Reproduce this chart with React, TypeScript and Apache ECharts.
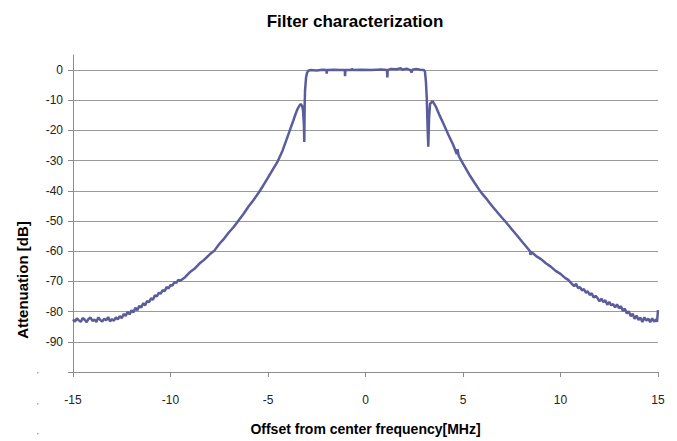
import React, { useEffect, useRef } from "react";
import * as echarts from "echarts";

const freq: number[] = [
  -15.0, -14.9, -14.8, -14.7, -14.6, -14.5, -14.4, -14.3, -14.2, -14.1,
  -14.0, -13.9, -13.8, -13.7, -13.6, -13.5, -13.4, -13.3, -13.2, -13.1,
  -13.0, -12.9, -12.8, -12.7, -12.6,
  -12.5, -12.4, -12.3, -12.2, -12.1, -12.0, -11.9, -11.8, -11.7, -11.6,
  -11.5, -11.4, -11.3, -11.2, -11.1, -11.0, -10.9, -10.8, -10.7, -10.6,
  -10.5, -10.4, -10.3, -10.2, -10.1, -10.0, -9.9, -9.8, -9.7, -9.6, -9.5,
  -9.25, -9.0, -8.75, -8.5, -8.25, -8.0, -7.75, -7.5, -7.25, -7.0,
  -6.75, -6.5, -6.25, -6.0, -5.75, -5.5, -5.25, -5.0, -4.75, -4.5,
  -4.25, -4.0, -3.85, -3.7, -3.6, -3.5, -3.4, -3.32, -3.25, -3.2,
  -3.16, -3.14, -3.12, -3.1, -3.05, -3.0, -2.95, -2.85,
  -2.5, -2.2, -2.0, -1.99, -1.97, -1.6, -1.3, -1.06, -1.05, -1.03,
  -0.72, -0.7, -0.66, -0.2, 0.3, 0.8, 1.1, 1.12, 1.14, 1.3,
  1.6, 1.8, 1.9, 2.1, 2.3, 2.37, 2.4, 2.6, 2.8, 3.0,
  3.05, 3.1, 3.14, 3.18, 3.22, 3.26, 3.31, 3.44, 3.6, 3.8,
  4.0, 4.25, 4.5, 4.68, 4.72, 4.78, 5.0, 5.2, 5.36, 5.6,
  5.87, 6.0, 6.25, 6.5, 6.75, 7.0, 7.15, 7.5, 7.75, 8.0,
  8.25, 8.44, 8.46, 8.5, 8.75, 9.0, 9.25, 9.5, 9.75, 10.0,
  10.25, 10.4,
  10.5, 10.6, 10.7, 10.8, 10.9, 11.0, 11.1, 11.2, 11.3, 11.4,
  11.5, 11.6, 11.7, 11.8, 11.9, 12.0, 12.1, 12.2, 12.3, 12.4,
  12.5, 12.6, 12.7, 12.8, 12.9, 13.0, 13.1, 13.2, 13.3, 13.4,
  13.5, 13.6, 13.7, 13.8, 13.9, 14.0, 14.1, 14.2, 14.3, 14.4,
  14.5, 14.6, 14.7, 14.8, 14.9, 14.95, 15.0,
];

const atten: number[] = [
  -82.6, -83.3, -82.2, -82.9, -83.4, -82.1, -82.7, -83.5, -82.4, -82.0,
  -83.1, -82.6, -83.4, -81.9, -82.8, -83.3, -82.3, -82.9, -81.8, -83.2,
  -82.5, -83.0, -81.9, -82.6, -81.5,
  -82.2, -80.8, -81.4, -80.1, -80.9, -79.6, -80.2, -78.7, -79.5, -78.1,
  -78.6, -77.2, -77.9, -76.5, -76.9, -75.6, -76.1, -74.6, -75.0, -73.8,
  -74.0, -72.9, -73.2, -71.9, -72.3, -71.2, -71.4, -70.2, -70.5, -69.5, -69.8,
  -68.6, -66.9, -65.7, -64.0, -62.7, -61.1, -59.8, -57.6, -55.8, -53.7,
  -51.9, -49.7, -47.6, -45.2, -43.1, -40.8, -38.3, -35.6, -32.9, -30.2,
  -26.6, -22.1, -19.4, -16.7, -14.8, -13.1, -11.9, -11.2, -11.9, -13.5,
  -18.0, -23.8, -12.0, -6.8, -2.5, -1.0, -0.3, 0.0,
  -0.1, 0.1, 0.0, -1.2, 0.0, 0.1, 0.0, 0.0, -2.0, 0.0,
  0.0, 0.5, 0.0, 0.1, 0.0, 0.2, 0.0, -2.4, 0.0, 0.4,
  0.3, 0.6, 0.1, 0.5, 0.0, -0.8, 0.1, 0.4, 0.1, 0.0,
  -0.5, -4.0, -9.0, -18.0, -25.4, -16.0, -11.2, -10.3, -12.0, -15.0,
  -17.8, -21.4, -24.8, -27.8, -26.2, -28.4, -31.0, -33.2, -35.0, -37.4,
  -40.0, -41.1, -43.0, -45.1, -47.0, -48.9, -50.0, -52.7, -54.6, -56.6,
  -58.5, -60.0, -61.2, -60.2, -61.6, -62.6, -64.0, -65.1, -66.5, -67.5,
  -68.9, -69.5,
  -70.2, -70.9, -71.6, -70.8, -72.2, -71.9, -73.0, -72.5, -73.7, -73.3,
  -74.5, -73.9, -75.3, -74.8, -75.5, -76.6, -75.7, -76.9, -76.2, -77.7,
  -76.8, -77.9, -77.5, -78.6, -77.6, -78.9, -78.2, -79.8, -79.0, -80.6,
  -79.9, -81.5, -80.7, -82.4, -81.3, -82.8, -82.0, -83.4, -81.9, -83.0,
  -82.3, -83.5, -82.2, -83.3, -82.6, -83.4, -79.5,
];

const yTickValues = [-100, -90, -80, -70, -60, -50, -40, -30, -20, -10, 0];
const yLabelValues = [-90, -80, -70, -60, -50, -40, -30, -20, -10, 0];

const titleText = "Filter characterization";
const xName = "Offset from center frequency[MHz]";
const yName = "Attenuation [dB]";

const FONT = "'Liberation Sans', Arial, sans-serif";

export default function App() {
  const ref = useRef<HTMLDivElement>(null);
  useEffect(() => {
    document.body.style.margin = "0";
    const chart = echarts.init(ref.current!, null, { renderer: "svg" });
    const data = freq.map((f, i) => [f, atten[i]]);
    chart.setOption({
      animation: false,
      backgroundColor: "#ffffff",
      title: {
        text: titleText,
        left: 350,
        top: 8,
        textAlign: "center",
        textStyle: { fontSize: 17, fontWeight: "bold", color: "#000", fontFamily: FONT },
      },
      grid: { left: 73, right: 19, top: 55, bottom: 69 },
      xAxis: {
        type: "value",
        min: -15,
        max: 15,
        interval: 5,
        name: xName,
        nameLocation: "middle",
        nameGap: 50,
        nameTextStyle: { fontSize: 14, fontWeight: "bold", color: "#000", fontFamily: FONT },
        axisLine: { show: true, onZero: false, lineStyle: { color: "#8c8c8c", width: 1 } },
        axisTick: { show: true, length: 5, lineStyle: { color: "#8c8c8c" } },
        splitLine: { show: false },
        axisLabel: { margin: 22, fontSize: 12, color: "#222", fontFamily: FONT },
      },
      yAxis: {
        type: "value",
        min: -100,
        max: 5,
        axisLine: { show: true, onZero: false, lineStyle: { color: "#8c8c8c", width: 1 } },
        axisTick: { show: true, length: 5, customValues: yTickValues, lineStyle: { color: "#8c8c8c" } },
        axisLabel: { customValues: yLabelValues, margin: 10, fontSize: 12, color: "#222", fontFamily: FONT },
        splitLine: { show: true, lineStyle: { color: "#9a9a9a", width: 1 } },
      },
      graphic: [
        {
          type: "text",
          x: 22,
          y: 280,
          rotation: Math.PI / 2,
          style: {
            text: yName,
            fontSize: 15,
            fontWeight: "bold",
            fontFamily: FONT,
            fill: "#000",
            align: "center",
            verticalAlign: "middle",
          },
        },
        { type: "rect", shape: { x: 37, y: 372, width: 1.5, height: 1.5 }, style: { fill: "#aaa" } },
        { type: "rect", shape: { x: 37, y: 403, width: 1.5, height: 1.5 }, style: { fill: "#aaa" } },
        { type: "rect", shape: { x: 37, y: 433, width: 1.5, height: 1.5 }, style: { fill: "#aaa" } },
      ],
      series: [
        {
          type: "line",
          data,
          showSymbol: false,
          symbol: "none",
          lineStyle: { color: "#5b5c9c", width: 2.5 },
          itemStyle: { color: "#5b5c9c" },
        },
      ],
    });
    return () => chart.dispose();
  }, []);
  return <div ref={ref} style={{ width: 677, height: 441 }} />;
}
